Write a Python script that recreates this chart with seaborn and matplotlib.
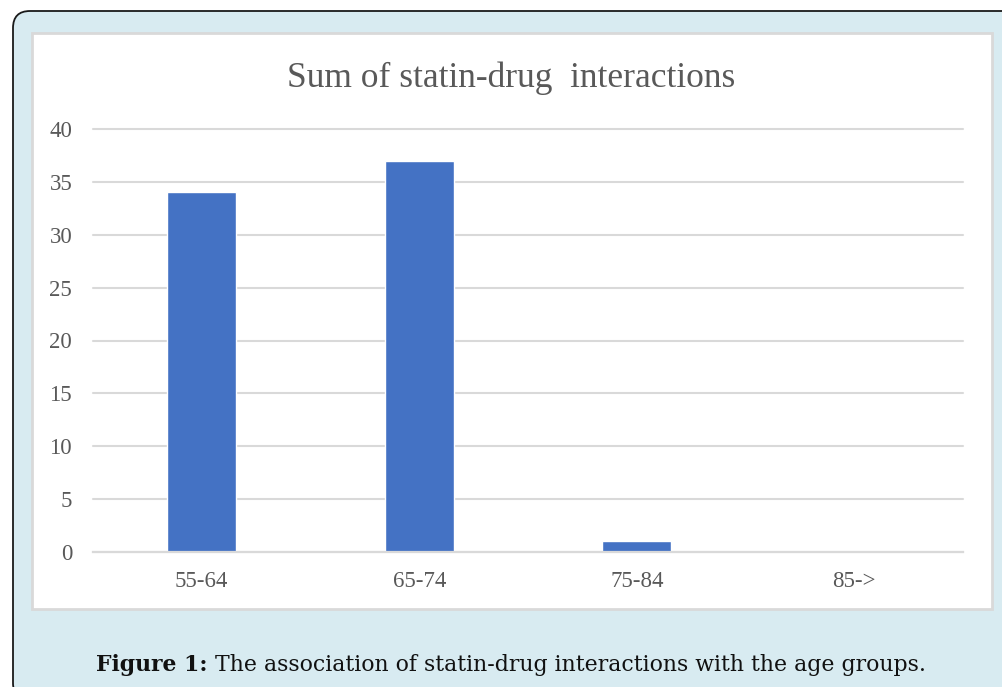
import matplotlib
matplotlib.use("Agg")
import matplotlib.pyplot as plt
from matplotlib.patches import FancyBboxPatch, Rectangle
import pandas as pd
import seaborn as sns

# Data
age_groups = ["55-64", "65-74", "75-84", "85->"]
interactions = [34, 37, 1, 0]
y_ticks = [0, 5, 10, 15, 20, 25, 30, 35, 40]

title_text = "Sum of statin-drug  interactions"
caption_bold = "Figure 1:"
caption_rest = " The association of statin-drug interactions with the age groups."

W, H = 1003, 687
sns.set_theme(style="white")
plt.rcParams["font.family"] = ["Liberation Serif", "DejaVu Serif"]

fig = plt.figure(figsize=(W / 100, H / 100), dpi=100, facecolor="white")

def fx(px):
    return px / W

def fy(py):
    return 1 - py / H

# Light blue rounded frame
frame = FancyBboxPatch((fx(13), fy(700)), fx(1020) - fx(13), fy(11) - fy(700),
                       boxstyle="round,pad=0,rounding_size=0.017",
                       transform=fig.transFigure, facecolor="#d8ebf1",
                       edgecolor="#1a1a1a", linewidth=1.3, zorder=0,
                       mutation_aspect=W / H)
fig.patches.append(frame)

# White chart panel
panel = Rectangle((fx(32), fy(609)), fx(992) - fx(32), fy(33) - fy(609),
                  transform=fig.transFigure, facecolor="white",
                  edgecolor="#d9d9d9", linewidth=2.0, zorder=1)
fig.patches.append(panel)

ax = fig.add_axes([fx(93), fy(552), fx(963) - fx(93), fy(129) - fy(552)])
ax.set_zorder(2)
ax.patch.set_alpha(0)

df = pd.DataFrame({"age": age_groups, "count": interactions})
sns.barplot(data=df, x="age", y="count", color="#4472c4", width=0.317,
            saturation=1, ax=ax, zorder=3)

ax.set_ylim(0, 40)
ax.set_xlim(-0.5, len(age_groups) - 0.5)
ax.set_yticks(y_ticks)
ax.yaxis.grid(True, color="#d9d9d9", linewidth=1.5, zorder=0)
ax.set_axisbelow(True)
for side in ["top", "right", "left"]:
    ax.spines[side].set_visible(False)
ax.spines["bottom"].set_color("#d9d9d9")
ax.spines["bottom"].set_linewidth(1.6)
ax.spines["bottom"].set_zorder(4)
ax.tick_params(axis="both", length=0, labelsize=16.5, labelcolor="#595959")
ax.tick_params(axis="y", pad=15)
ax.tick_params(axis="x", pad=13.5)
ax.set_xlabel("")
ax.set_ylabel("")
for gl in ax.get_ygridlines():
    gl.set_clip_on(False)

fig.text(fx(511), fy(78), title_text, ha="center", va="center",
         fontsize=25.5, color="#595959", family=["Liberation Serif"])

# Caption: bold lead followed by regular text, centred as one line
cap_size = 15.8
t_bold = fig.text(0, fy(665), caption_bold, ha="left", va="center",
                  fontsize=cap_size, fontweight="bold", color="#111111",
                  family=["DejaVu Serif"])
t_rest = fig.text(0, fy(665), caption_rest, ha="left", va="center",
                  fontsize=cap_size, color="#111111", family=["DejaVu Serif"])
fig.canvas.draw()
r = fig.canvas.get_renderer()
wb = t_bold.get_window_extent(r).width
wr = t_rest.get_window_extent(r).width
x0 = 511 - (wb + wr) / 2
t_bold.set_x(fx(x0))
t_rest.set_x(fx(x0 + wb))

fig.savefig("out.png", dpi=100, facecolor="white")
